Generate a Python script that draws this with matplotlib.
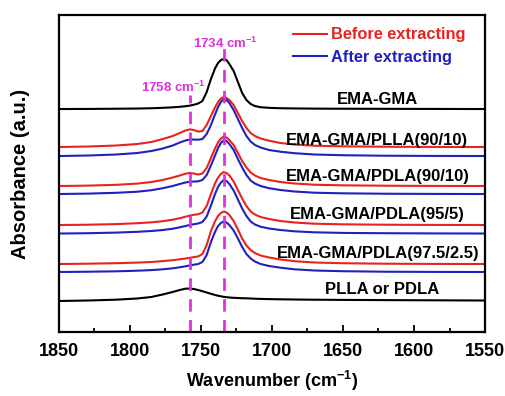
import matplotlib
matplotlib.use("Agg")
import matplotlib.pyplot as plt
from matplotlib.lines import Line2D
from matplotlib.ticker import MultipleLocator

plt.rcParams['font.family'] = ['Liberation Sans', 'DejaVu Sans']
plt.rcParams['font.weight'] = 'bold'
plt.rcParams['mathtext.fontset'] = 'custom'
plt.rcParams['mathtext.bf'] = 'Liberation Sans:bold'

# Wavenumber grid (cm-1) shared by all spectra
wavenumber = [1850, 1830, 1810, 1795, 1785, 1777, 1770, 1765, 1761, 1758, 1755, 1752,
              1749, 1746, 1743, 1740, 1738, 1736, 1734, 1732, 1730, 1727, 1724, 1721,
              1718, 1715, 1712, 1708, 1702, 1694, 1684, 1670, 1650, 1620, 1585, 1550]

# Absorbance above each spectrum's own baseline (a.u.)
ema_gma = [0, 0.1, 0.3, 0.5, 0.8, 1.2, 1.7, 2.2, 2.8, 3.4, 4.3, 5.5,
           8, 17, 30, 41, 46, 49, 50, 49, 45, 38, 27, 16,
           9, 5, 3, 1.8, 1.2, 0.8, 0.6, 0.4, 0.3, 0.2, 0.1, 0]
plla90_before = [0, 0.5, 1.5, 3, 5, 8, 11, 14, 16.5, 17.7, 17, 15.5,
                 16, 22, 31, 40, 45, 48.5, 50, 49, 47, 42, 34, 26,
                 19, 14, 11, 8.5, 6.3, 4, 2.5, 1.3, 0.7, 0.3, 0.1, 0]
plla90_after = [0, 0.5, 1.5, 3, 5, 7.5, 10.5, 13.5, 15.5, 16.5, 16.5, 16.3,
                17, 22, 31, 42, 49, 54, 57, 56, 53, 46, 37, 28,
                20, 14.5, 11, 8.5, 6, 4.3, 2.8, 1.5, 0.8, 0.3, 0.1, 0]
pdla90_before = [0, 0.4, 1.2, 2.4, 4, 6, 8.5, 10.5, 12.3, 13, 12.5, 11.5,
                 12.5, 18, 28, 38, 43.5, 47.5, 49.5, 48.5, 46, 41, 33, 25,
                 18.5, 13.5, 10.5, 8, 6, 4, 2.5, 1.3, 0.7, 0.3, 0.1, 0]
pdla90_after = [0, 0.4, 1.2, 2.3, 3.8, 5.8, 8, 10, 11.5, 12.3, 12.5, 12.7,
                14, 19, 28.5, 39, 46, 51, 54, 53, 50, 44, 35, 26.5,
                19, 13.5, 10.5, 8, 5.8, 4, 2.5, 1.3, 0.7, 0.3, 0.1, 0]
pdla95_before = [0, 0.3, 0.9, 1.8, 2.7, 3.8, 5.3, 6.8, 8.3, 9.4, 10.2, 10.8,
                 12.5, 19, 31, 42, 47.5, 51, 53, 52, 49.5, 43.5, 35, 26.5,
                 19, 13.5, 10.5, 8, 6, 4, 2.5, 1.3, 0.7, 0.3, 0.1, 0]
pdla95_after = [0, 0.3, 0.9, 1.7, 2.5, 3.5, 4.8, 6.2, 7.5, 8.5, 9.3, 10,
                11.5, 17, 28, 40, 46.5, 51, 53.5, 52.5, 49.5, 43, 34, 25,
                17.5, 12, 9, 6.8, 5, 3.5, 2.2, 1.2, 0.6, 0.3, 0.1, 0]
pdla975_before = [0, 0.3, 0.8, 1.4, 2, 2.9, 3.8, 4.7, 5.5, 6.2, 6.9, 7.6,
                  10, 19, 33, 43, 48, 51, 52.5, 51.5, 49, 43, 34.5, 25.5,
                  18.5, 14, 11, 8.5, 6.5, 4.5, 2.8, 1.5, 0.8, 0.3, 0.1, 0]
pdla975_after = [0, 0.3, 0.7, 1.3, 1.9, 2.7, 3.7, 4.7, 5.7, 6.6, 7.3, 8,
                 10, 17, 30, 40.5, 46, 49, 50.5, 49.5, 47, 41.5, 33.5, 25,
                 18, 13.5, 10.5, 8, 6, 4.3, 2.7, 1.5, 0.8, 0.3, 0.1, 0]
pla = [0, 0.5, 1.3, 2.5, 4, 6.5, 9, 11, 12.3, 12.5, 12, 11,
       9.8, 8.5, 7.2, 6, 5.3, 4.7, 4.2, 3.8, 3.5, 3.2, 3, 2.8,
       2.7, 2.5, 2.3, 2.1, 1.9, 1.7, 1.5, 1.3, 1.1, 0.9, 0.7, 0.5]

sample_labels = ["EMA-GMA", "EMA-GMA/PLLA(90/10)", "EMA-GMA/PDLA(90/10)",
                 "EMA-GMA/PDLA(95/5)", "EMA-GMA/PDLA(97.5/2.5)", "PLLA or PDLA"]

# vertical stacking offsets
ema_offset = 223
pla_offset = 31
pair_offsets = [(185, 176), (146, 138), (107, 98.5), (68, 60)]
pairs = [(plla90_before, plla90_after), (pdla90_before, pdla90_after),
         (pdla95_before, pdla95_after), (pdla975_before, pdla975_after)]

red = '#e8231f'
blue = '#2020c0'
magenta = '#e030e0'

fig = plt.figure(figsize=(5.05, 3.96), dpi=100)
ax = fig.add_axes([0.1168, 0.1616, 0.8436, 0.8004])

lw = 1.5
ax.plot(wavenumber, [v + ema_offset for v in ema_gma], color='black', lw=lw)
for (before, after), (ob, oa) in zip(pairs, pair_offsets):
    ax.plot(wavenumber, [v + ob for v in before], color=red, lw=lw)
    ax.plot(wavenumber, [v + oa for v in after], color=blue, lw=lw)
ax.plot(wavenumber, [v + pla_offset for v in pla], color='black', lw=lw)

# peak markers
ax.plot([1734, 1734], [0, 284], color=magenta, lw=2, ls=(0, (4.5, 3)))
ax.plot([1758, 1758], [0, 237], color=magenta, lw=2, ls=(0, (4.5, 3)))
ax.text(1733, 289, "1734 cm$^{\\mathbf{-1}}$", color=magenta, fontsize=9.5, fontweight='bold',
        ha='center', va='center')
ax.text(1769.5, 245, "1758 cm$^{\\mathbf{-1}}$", color=magenta, fontsize=9.5, fontweight='bold',
        ha='center', va='center')

# sample labels
label_y = [233, 192, 156, 118, 79, 43]
label_x = [1626, 1626, 1625.5, 1625.5, 1625.5, 1622.5]
for t, xx, yy in zip(sample_labels, label_x, label_y):
    ax.text(xx, yy, t, fontsize=12, fontweight='bold', ha='center', va='center')

handles = [Line2D([], [], color=red, lw=lw), Line2D([], [], color=blue, lw=lw)]
leg = ax.legend(handles, ["Before extracting", "After extracting"], loc='upper right',
                bbox_to_anchor=(0.988, 1.008), frameon=False, handlelength=2.1,
                handletextpad=0.2, labelspacing=0.45, labelcolor=[red, blue],
                prop={'weight': 'bold', 'size': 11.8})

ax.set_xlim(1850, 1550)
ax.set_ylim(0, 317)
ax.set_yticks([])
ax.xaxis.set_major_locator(MultipleLocator(50))
ax.xaxis.set_minor_locator(MultipleLocator(25))
ax.tick_params(axis='x', which='major', direction='in', length=5, width=1.3, labelsize=13, pad=8)
ax.tick_params(axis='x', which='minor', direction='in', length=3, width=1.3)
for s in ax.spines.values():
    s.set_linewidth(1.6)
for lbl in ax.get_xticklabels():
    lbl.set_fontweight('bold')

ax.set_xlabel("Wavenumber (cm$^{\\mathbf{-1}}$)", fontsize=13, fontweight='bold', labelpad=6)
ax.set_ylabel("Absorbance (a.u.)", fontsize=14.5, fontweight='bold', labelpad=21)

fig.savefig("out.png", dpi=100)
